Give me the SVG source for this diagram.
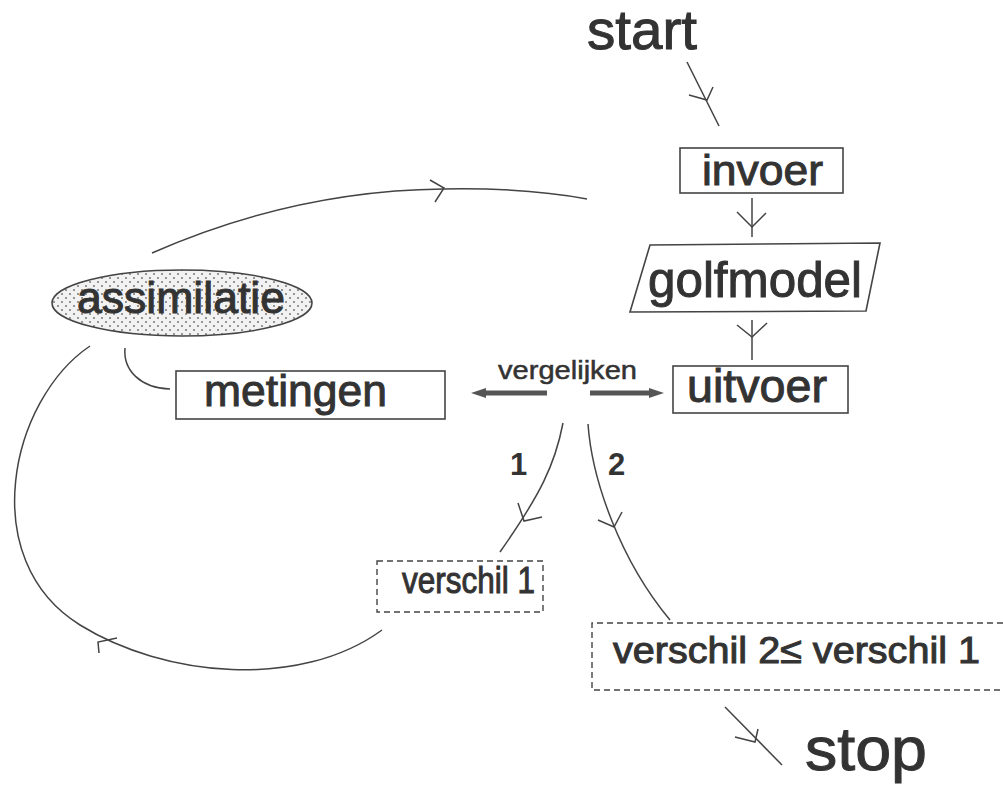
<svg xmlns="http://www.w3.org/2000/svg" width="1003" height="798" viewBox="0 0 1003 798">
<defs>
<pattern id="dots" width="8" height="8" patternUnits="userSpaceOnUse">
<rect width="8" height="8" fill="#f2f2f2"/>
<circle cx="2" cy="2" r="1" fill="#777"/>
<circle cx="6" cy="6" r="1" fill="#777"/>
</pattern>
<marker id="thick" markerWidth="16" markerHeight="12" refX="3" refY="6" orient="auto" markerUnits="userSpaceOnUse">
<path d="M0,1 L15,6 L0,11 Z" fill="#555"/>
</marker>
</defs>
<style>
text{font-family:"Liberation Sans",Arial,sans-serif;fill:#333;stroke:#333;stroke-width:1}
.box{fill:#fff;stroke:#444;stroke-width:1.6}
.dash{fill:none;stroke:#444;stroke-width:1.4;stroke-dasharray:6,4}
.ln{fill:none;stroke:#444;stroke-width:1.5}
.thick{fill:none;stroke:#555;stroke-width:5}
</style>

<g id="start"><text x="587" y="49" font-size="56" textLength="110" lengthAdjust="spacingAndGlyphs">start</text></g>

<g id="invoer">
<rect class="box" x="680" y="148" width="163" height="45"/>
<text x="702" y="185" font-size="43" textLength="121" lengthAdjust="spacingAndGlyphs">invoer</text>
</g>

<g id="golfmodel">
<polygon class="box" points="650,245 880,243 866,311 630,312"/>
<text x="648" y="297" font-size="50" textLength="214" lengthAdjust="spacingAndGlyphs">golfmodel</text>
</g>

<g id="uitvoer">
<rect class="box" x="673" y="366" width="175" height="47"/>
<text x="687" y="402" font-size="46" textLength="140" lengthAdjust="spacingAndGlyphs">uitvoer</text>
</g>

<g id="metingen">
<rect class="box" x="176" y="371" width="269" height="48"/>
<text x="204" y="406" font-size="45" textLength="183" lengthAdjust="spacingAndGlyphs">metingen</text>
</g>

<g id="assimilatie">
<ellipse cx="182" cy="303" rx="130" ry="33" fill="url(#dots)" stroke="#444" stroke-width="1.6"/>
<text x="77" y="313" font-size="44" textLength="208" lengthAdjust="spacingAndGlyphs">assimilatie</text>
</g>

<g id="vergelijken">
<text x="498" y="379" font-size="25" textLength="139" lengthAdjust="spacingAndGlyphs" style="stroke-width:0.5">vergelijken</text>
</g>

<g id="verschil1">
<rect class="dash" x="377" y="561" width="166" height="51"/>
<text x="402" y="593" font-size="37" textLength="133" lengthAdjust="spacingAndGlyphs">verschil 1</text>
</g>

<g id="verschil2">
<path class="dash" d="M1003,623 L592,623 L592,690 L1003,690"/>
<text x="613" y="663" font-size="37" textLength="367" lengthAdjust="spacingAndGlyphs">verschil 2≤ verschil 1</text>
</g>

<g id="stop"><text x="805" y="770" font-size="62" textLength="122" lengthAdjust="spacingAndGlyphs">stop</text></g>

<g id="labels">
<text x="510" y="475" font-size="31" font-weight="bold" style="stroke-width:0">1</text>
<text x="608" y="475" font-size="31" font-weight="bold" style="stroke-width:0">2</text>
</g>

<g id="connectors">
<!-- start -> invoer -->
<path class="ln" d="M687,62 L719,126"/>
<path class="ln" d="M689,95 L707,100 L713,87"/>
<!-- invoer -> golfmodel -->
<path class="ln" d="M752,198 L752,237"/>
<path class="ln" d="M737,212 L752,227 L766,213"/>
<!-- golfmodel -> uitvoer -->
<path class="ln" d="M752,320 L752,360"/>
<path class="ln" d="M737,325 L752,337 L767,323"/>
<!-- vergelijken thick arrows -->
<path class="thick" d="M547,393 L483,393" marker-end="url(#thick)"/>
<path class="thick" d="M590,393 L652,393" marker-end="url(#thick)"/>
<!-- branch 1 -->
<path class="ln" d="M563,423 C555,465 540,495 500,552"/>
<path class="ln" d="M518,503 L524,521 L542,517"/>
<!-- branch 2 -->
<path class="ln" d="M588,424 C592,480 620,560 670,620"/>
<path class="ln" d="M598,520 L614,527 L622,512"/>
<!-- verschil 2 -> stop -->
<path class="ln" d="M725,707 L782,765"/>
<path class="ln" d="M735,737 L755,742 L758,729"/>
<!-- metingen -> assimilatie -->
<path class="ln" d="M125,348 C123,370 140,388 170,389"/>
<!-- verschil 1 -> assimilatie loop -->
<path class="ln" d="M382,630 C300,690 164,677 80,625 C-25,560 10,400 90,346"/>
<path class="ln" d="M117,638 L98,642 L99,653"/>
<!-- assimilatie -> invoer top arc -->
<path class="ln" d="M152,253 C250,210 350,190 443,189 C500,188 550,192 587,199"/>
<path class="ln" d="M430,180 L444,188 L435,202"/>
</g>
</svg>
